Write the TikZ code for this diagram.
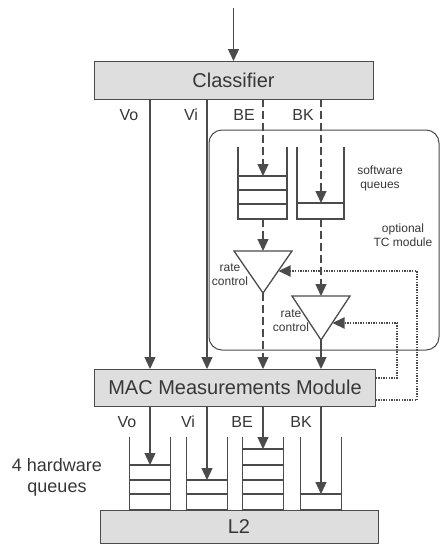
\documentclass[tikz,border=0pt]{standalone}
\usepackage{fontspec}
\setmainfont{Liberation Sans}
\usetikzlibrary{arrows.meta}
\definecolor{lc}{RGB}{75,75,75}
\definecolor{bf}{RGB}{222,222,222}
\definecolor{tc}{RGB}{55,55,55}
\begin{document}
\begin{tikzpicture}[x=1pt,y=-1pt,
  every node/.style={text=tc, inner sep=0pt, outer sep=0pt},
  box/.style={draw=lc, fill=bf, line width=1pt, rectangle, font=\fontsize{20}{22}\selectfont},
  ln/.style={draw=lc, line width=1.3pt},
  arr/.style={ln, -{Triangle[length=12pt,width=11pt]}},
  dsh/.style={dash pattern=on 8pt off 4pt},
  fb/.style={draw=lc, line width=2.2pt, dash pattern=on 1.4pt off 1.2pt, -{Triangle[length=12pt,width=11pt]}},
  lab/.style={font=\fontsize{16}{18}\selectfont},
  small/.style={font=\fontsize{12}{14}\selectfont, align=center},
  qwall/.style={draw=lc, line width=1.2pt},
  slot/.style={draw=lc, line width=1.1pt}
]
\useasboundingbox (0,0) rectangle (440,544);

% column positions
\coordinate (xvo) at (150,0);
\coordinate (xvi) at (207,0);
\coordinate (xbe) at (263,0);
\coordinate (xbk) at (321,0);

% optional TC module frame
\draw[draw=lc, line width=1pt, rounded corners=13pt] (209,130) rectangle (439,350);

% boxes
\node[box, minimum width=279pt, minimum height=38pt] (cls) at (233.5,80) {Classifier};
\node[box, minimum width=281pt, minimum height=37pt] (mac) at (235,387.5) {MAC Measurements Module};
\node[box, minimum width=278pt, minimum height=33pt] (l2) at (239,526.5) {L2};

% input arrow
\coordinate (in) at (233.5,8);
\draw[arr] (in) -- (in |- cls.north);

% software queues
\draw[qwall] (238,147) -- (238,219) -- (287,219) -- (287,147);
\foreach \y in {176,190,204} \draw[slot] (238,\y) -- (287,\y);
\draw[qwall] (297,147) -- (297,219) -- (344,219) -- (344,147);
\draw[slot] (297,203) -- (344,203);
\coordinate (sbeT) at (263,176);
\coordinate (sbeB) at (263,219);
\coordinate (sbkT) at (321,203);
\coordinate (sbkB) at (321,219);

% rate control triangles
\coordinate (t1l) at (234,251); \coordinate (t1r) at (292,251); \coordinate (t1a) at (263,293);
\coordinate (t2l) at (292,296); \coordinate (t2r) at (350,296); \coordinate (t2a) at (321,340);
\draw[ln, line join=miter] (t1l) -- (t1r) -- (t1a) -- cycle;
\draw[ln, line join=miter] (t2l) -- (t2r) -- (t2a) -- cycle;
\coordinate (t1top) at (263,251);
\coordinate (t2top) at (321,296);
\coordinate (t1side) at (278.5,271);
\coordinate (t2side) at (332.5,323);

% classifier outputs
\draw[arr] (cls.south -| xvo) -- (mac.north -| xvo);
\draw[arr] (cls.south -| xvi) -- (mac.north -| xvi);
\draw[arr, dsh] (cls.south -| xbe) -- (sbeT);
\draw[arr, dsh] (cls.south -| xbk) -- (sbkT);
\draw[arr, dsh] (sbeB) -- (t1top);
\draw[arr, dsh] (sbkB) -- (t2top);
\draw[arr, dsh] (t1a) -- (mac.north -| xbe);
\draw[arr] (t2a) -- (mac.north -| xbk);

% feedback
\coordinate (fb1a) at (397,378); \coordinate (fb1b) at (397,323);
\coordinate (fb2a) at (417,400); \coordinate (fb2b) at (417,271);
\draw[fb] (mac.east |- fb1a) -- (fb1a) -- (fb1b) -- (t2side);
\draw[fb] (mac.east |- fb2a) -- (fb2a) -- (fb2b) -- (t1side);

% hardware queues
\draw[qwall] (129.5,437) -- (129.5,510) -- (170.5,510) -- (170.5,437);
\foreach \y in {465,480,494} \draw[slot] (129.5,\y) -- (170.5,\y);
\draw[qwall] (186.5,437) -- (186.5,510) -- (227.5,510) -- (227.5,437);
\foreach \y in {480,494} \draw[slot] (186.5,\y) -- (227.5,\y);
\draw[qwall] (242.5,437) -- (242.5,510) -- (283.5,510) -- (283.5,437);
\foreach \y in {449,465,480,494} \draw[slot] (242.5,\y) -- (283.5,\y);
\draw[qwall] (300.5,437) -- (300.5,510) -- (341.5,510) -- (341.5,437);
\draw[slot] (300.5,494) -- (341.5,494);
\coordinate (hvo) at (150,465);
\coordinate (hvi) at (207,480);
\coordinate (hbe) at (263,449);
\coordinate (hbk) at (321,494);
\draw[arr] (mac.south -| xvo) -- (hvo);
\draw[arr] (mac.south -| xvi) -- (hvi);
\draw[arr] (mac.south -| xbe) -- (hbe);
\draw[arr] (mac.south -| xbk) -- (hbk);

% labels
\node[lab] (lvo1) at (129,115) {Vo};
\node[lab] (lvi1) at (191,115) {Vi};
\node[lab] (lbe1) at (244,115) {BE};
\node[lab] (lbk1) at (303,115) {BK};
\node[lab] (lvo2) at (127,422) {Vo};
\node[lab] (lvi2) at (188,422) {Vi};
\node[lab] (lbe2) at (242,422) {BE};
\node[lab] (lbk2) at (301,422) {BK};
\node[small] (swq) at (380,178) {software\\queues};
\node[small] (tcm) at (403,235) {optional\\TC module};
\node[small] (rc1) at (230,275) {rate\\control};
\node[small] (rc2) at (291,321) {rate\\control};
\node[font=\fontsize{18}{21}\selectfont, align=center] (hwq) at (57,477) {4 hardware\\queues};
\end{tikzpicture}
\end{document}
